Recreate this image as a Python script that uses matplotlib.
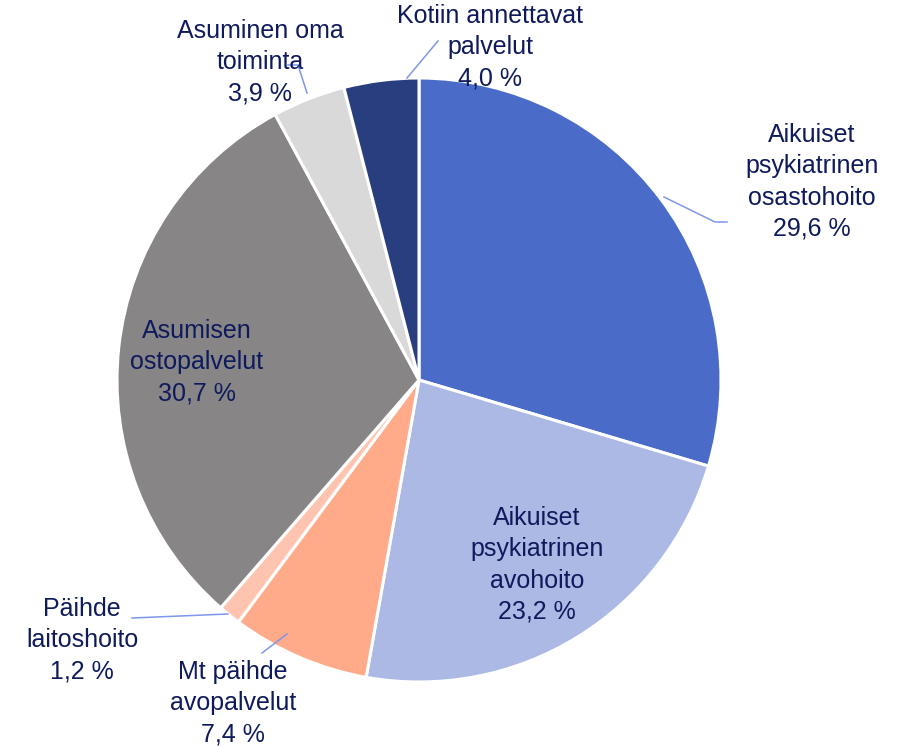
import matplotlib.pyplot as plt

plt.rcParams['font.family'] = ['Liberation Sans', 'DejaVu Sans']

# Data
labels = ['Aikuiset\npsykiatrinen\nosastohoito', 'Aikuiset\npsykiatrinen\navohoito',
          'Mt päihde\navopalvelut', 'Päihde\nlaitoshoito', 'Asumisen\nostopalvelut',
          'Asuminen oma\ntoiminta', 'Kotiin annettavat\npalvelut']
shares = [29.6, 23.2, 7.4, 1.2, 30.7, 3.9, 4.0]
colors = ['#4a6cc8', '#abb9e4', '#ffaa88', '#ffc4b0', '#878585', '#d9d9d9', '#283e7e']

W, H = 897, 746
txt_col = '#0e1a5c'
lead_col = '#7f97ea'

fig = plt.figure(figsize=(W / 100, H / 100), dpi=100)
ax = fig.add_axes([0, 0, 1, 1])

ax.pie(shares, colors=colors, startangle=90, counterclock=False,
       center=(419, H - 380), radius=302,
       wedgeprops=dict(edgecolor='white', linewidth=2.2))

# pie() resets the limits, so set them afterwards
ax.set_xlim(0, W)
ax.set_ylim(0, H)
ax.set_aspect('equal')
ax.axis('off')

# label positions in pixel coordinates (x, y from top)
label_pos = [(812, 182), (537, 565), (233, 703), (82, 640), (197, 362), (260, 62), (490, 47)]
for lab, val, (x, y) in zip(labels, shares, label_pos):
    s = lab + '\n' + ('%.1f %%' % val).replace('.', ',')
    ax.text(x, H - y, s, ha='center', va='center', fontsize=18,
            color=txt_col, linespacing=1.38)

# leader lines
leaders = [
    [(664, 197), (715, 222), (727, 222)],
    [(407, 78), (438, 41)],
    [(307, 93), (298, 65), (288, 65)],
    [(228, 614), (132, 618)],
    [(287, 634), (262, 653)],
]
for pts in leaders:
    xs = [p[0] for p in pts]
    ys = [H - p[1] for p in pts]
    ax.plot(xs, ys, color=lead_col, linewidth=1.1)

fig.savefig('out.png', dpi=100)
